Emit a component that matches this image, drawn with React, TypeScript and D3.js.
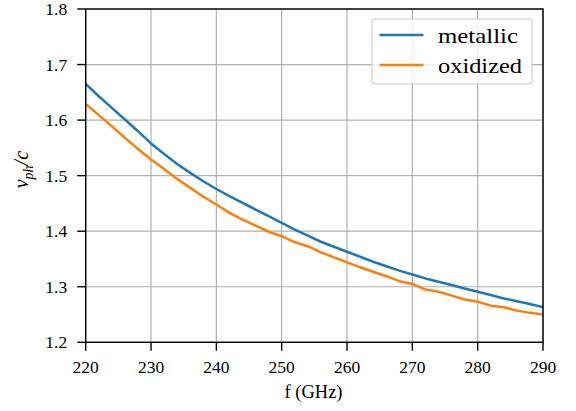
import React from "react";
import * as d3 from "d3";

const freqs: number[] = [
  220, 222, 224, 226, 228, 230, 232, 234, 236, 238, 240, 242, 244, 246, 248, 250, 252, 254,
  256, 258, 260, 262, 264, 266, 268, 270, 272, 274, 276, 278, 280, 282, 284, 286, 288, 290,
];
const metallic: number[] = [
  1.665, 1.643, 1.622, 1.601, 1.58, 1.558, 1.539, 1.521, 1.505, 1.49, 1.476, 1.463, 1.451, 1.439,
  1.427, 1.415, 1.403, 1.392, 1.381, 1.372, 1.363, 1.354, 1.345, 1.337, 1.329, 1.322, 1.315, 1.309,
  1.303, 1.297, 1.291, 1.285, 1.279, 1.274, 1.269, 1.263,
];
const oxidized: number[] = [
  1.629, 1.609, 1.589, 1.568, 1.548, 1.529, 1.512, 1.494, 1.478, 1.462, 1.448, 1.433, 1.421, 1.41,
  1.399, 1.391, 1.38, 1.373, 1.362, 1.353, 1.344, 1.335, 1.327, 1.319, 1.31, 1.305, 1.295, 1.291,
  1.284, 1.277, 1.273, 1.266, 1.263, 1.257, 1.253, 1.25,
];
const xTicks: number[] = [220, 230, 240, 250, 260, 270, 280, 290];
const yTicks: number[] = [1.2, 1.3, 1.4, 1.5, 1.6, 1.7, 1.8];
const seriesNames: string[] = ["metallic", "oxidized"];
const seriesColors: string[] = ["#1f77b4", "#ff7f0e"];
const xLabel = "f (GHz)";

const W = 576;
const H = 411;
const L = 85.7;
const R = 543;
const T = 9;
const B = 342.3;
const FS = { fontFamily: "Liberation Serif" };

export default function App() {
  const x = d3.scaleLinear().domain([220, 290]).range([L, R]);
  const y = d3.scaleLinear().domain([1.2, 1.8]).range([B, T]);
  const line = d3
    .line<[number, number]>()
    .x((d) => x(d[0]))
    .y((d) => y(d[1]));
  const series = [metallic, oxidized].map((vals) =>
    freqs.map((f, i) => [f, vals[i]] as [number, number])
  );
  const legendWidths = [80, 84];

  return (
    <svg
      width={W}
      height={H}
      style={{ position: "absolute", left: 0, top: 0, background: "#fff" }}
    >
      <rect x={0} y={0} width={W} height={H} fill="#fff" />
      <g stroke="#b0b0b0" strokeWidth={1.2}>
        {xTicks.map((t) => (
          <line key={"gx" + t} x1={x(t)} x2={x(t)} y1={T} y2={B} />
        ))}
        {yTicks.map((t) => (
          <line key={"gy" + t} x1={L} x2={R} y1={y(t)} y2={y(t)} />
        ))}
      </g>
      <defs>
        <clipPath id="plotclip">
          <rect x={L} y={T} width={R - L} height={B - T} />
        </clipPath>
      </defs>
      <g clipPath="url(#plotclip)">
        {series.map((s, i) => (
          <path
            key={seriesNames[i]}
            d={line(s) || ""}
            fill="none"
            stroke={seriesColors[i]}
            strokeWidth={2.5}
            strokeLinejoin="round"
            strokeLinecap="square"
          />
        ))}
      </g>
      <rect x={L} y={T} width={R - L} height={B - T} fill="none" stroke="#000" strokeWidth={1.4} />
      <g stroke="#000" strokeWidth={1.4}>
        {xTicks.map((t) => (
          <line key={"tx" + t} x1={x(t)} x2={x(t)} y1={B} y2={B + 8.5} />
        ))}
        {yTicks.map((t) => (
          <line key={"ty" + t} x1={L} x2={L - 8.5} y1={y(t)} y2={y(t)} />
        ))}
      </g>
      {xTicks.map((t) => (
        <text key={"lx" + t} x={x(t)} y={372.5} textAnchor="middle" fontSize={17.5} style={FS}>
          {String(t)}
        </text>
      ))}
      {yTicks.map((t) => (
        <text key={"ly" + t} x={L - 18.5} y={y(t) + 6} textAnchor="end" fontSize={17.5} style={FS}>
          {t.toFixed(1)}
        </text>
      ))}
      <text x={313.5} y={398} fontSize={18.5} textAnchor="middle" style={FS}>
        {xLabel}
      </text>
      <text
        transform={`translate(28,${(T + B) / 2 - 6}) rotate(-90)`}
        fontSize={20}
        textAnchor="middle"
        fontStyle="italic"
        style={FS}
      >
        <tspan>v</tspan>
        <tspan fontSize={14} dy={4.5}>ph</tspan>
        <tspan dy={-4.5}>/c</tspan>
      </text>
      <g>
        <rect
          x={372}
          y={19}
          width={160}
          height={65}
          rx={3.5}
          fill="#fff"
          fillOpacity={0.8}
          stroke="#cccccc"
          strokeWidth={1.1}
        />
        {seriesNames.map((n, i) => (
          <g key={"lg" + n}>
            <line
              x1={379.5}
              x2={423.5}
              y1={35 + i * 30}
              y2={35 + i * 30}
              stroke={seriesColors[i]}
              strokeWidth={2.5}
            />
            <text
              x={438}
              y={43 + i * 30}
              fontSize={22}
              fill="#000"
              style={FS}
              textLength={legendWidths[i]}
              lengthAdjust="spacingAndGlyphs"
            >
              {n}
            </text>
          </g>
        ))}
      </g>
    </svg>
  );
}
